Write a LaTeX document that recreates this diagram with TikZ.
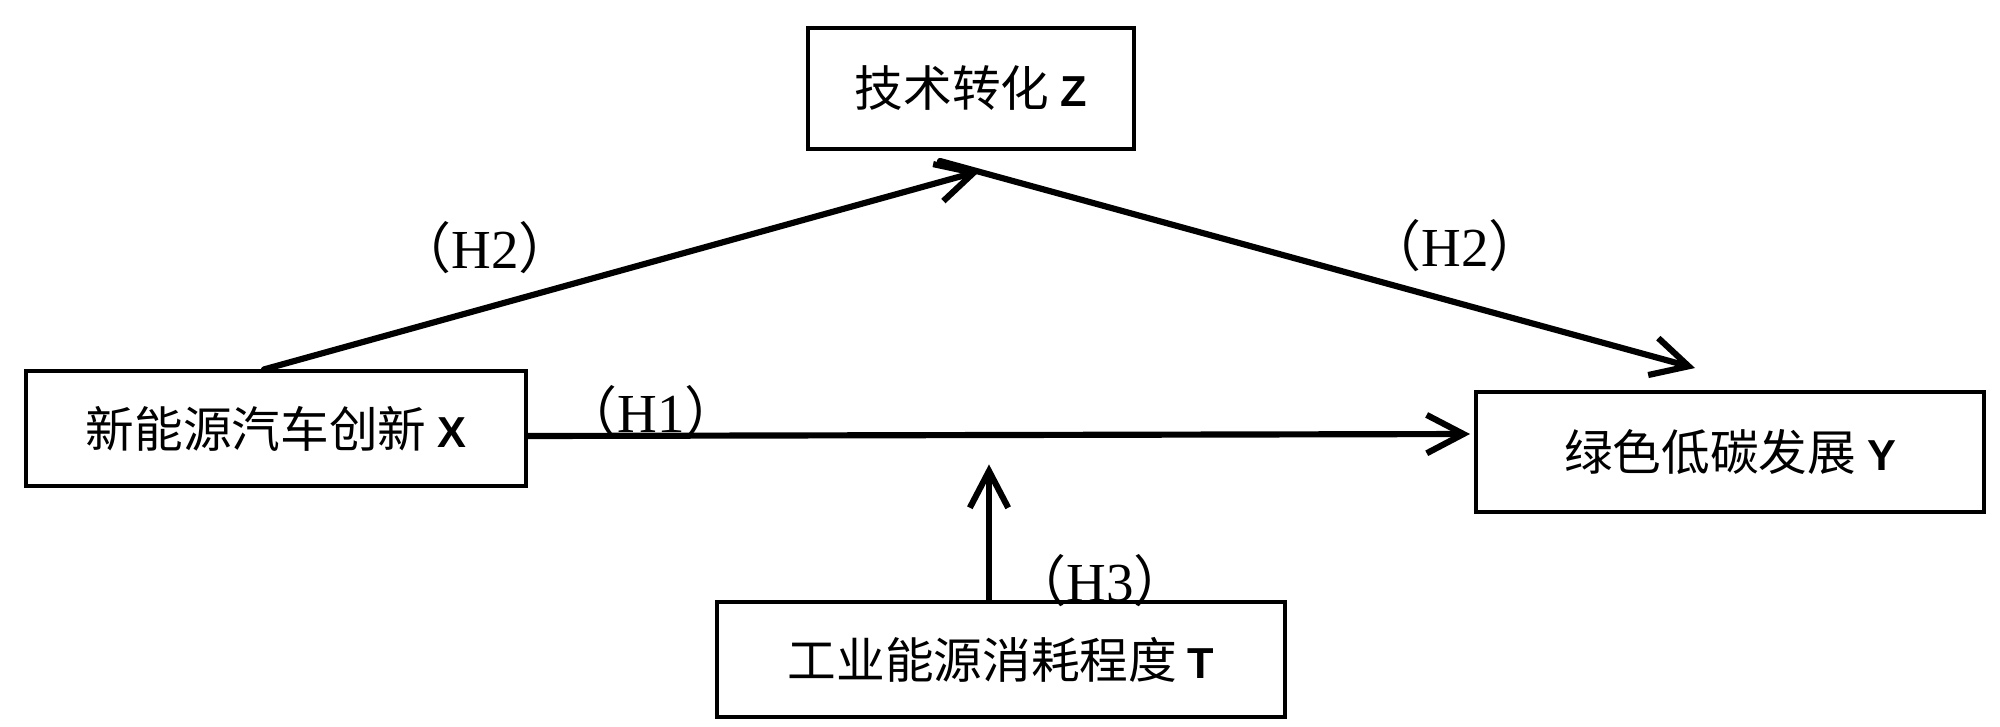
\documentclass[tikz,border=0pt]{standalone}
\usepackage{fontspec}
\setmainfont{Liberation Serif}
\newfontfamily\cjk{Noto Sans CJK SC}
\newfontfamily\lat{Liberation Sans}
\usetikzlibrary{arrows.meta}
\newcommand{\varl}[1]{{\lat\bfseries\fontsize{13}{15}\selectfont #1}}
\newcommand{\hyp}[1]{{\cjk（}#1{\cjk）}}
\begin{document}
\begin{tikzpicture}[x=0.3pt,y=-0.3pt,
  box/.style={draw, line width=0.95pt, inner sep=0pt, font=\fontsize{14.6}{17}\selectfont\cjk},
  arr/.style={line width=1.85pt, line cap=round, -{Straight Barb[length=11pt,width=11.5pt]}},
  lab/.style={font=\fontsize{16.5}{19}\selectfont, inner sep=0pt}]
\useasboundingbox (0,0) rectangle (2000,726);
\fill[white] (0,0) rectangle (2000,726);
\node[box, minimum width=150pt, minimum height=34.5pt] (X) at (276,428.5) {新能源汽车创新 \varl{X}};
\node[box, minimum width=97.8pt, minimum height=36.3pt] (Z) at (971,88.5) {技术转化 \varl{Z}};
\node[box, minimum width=152.4pt, minimum height=36pt] (Y) at (1730,452) {绿色低碳发展 \varl{Y}};
\node[box, minimum width=170.4pt, minimum height=34.5pt] (T) at (1001,659.5) {工业能源消耗程度 \varl{T}};
\coordinate (zin) at (980,171);
\coordinate (zout) at (940,161);
\coordinate (yin) at (1695,368);
\coordinate (h1end) at (1470,434);
\draw[arr] ([xshift=-3.6pt]X.north) -- (zin);
\draw[arr] (zout) -- (yin);
\draw[arr] ([yshift=-2.25pt]X.east) -- (h1end);
\draw[arr] ([xshift=-3.6pt]T.north) -- ++(0,-136);
\node[lab] (l1) at (485,248) {\hyp{H2}};
\node[lab] (l2) at (1455,246) {\hyp{H2}};
\node[lab] (l3) at (651,412) {\hyp{H1}};
\node[lab] (l4) at (1100,581) {\hyp{H3}};
\end{tikzpicture}
\end{document}
